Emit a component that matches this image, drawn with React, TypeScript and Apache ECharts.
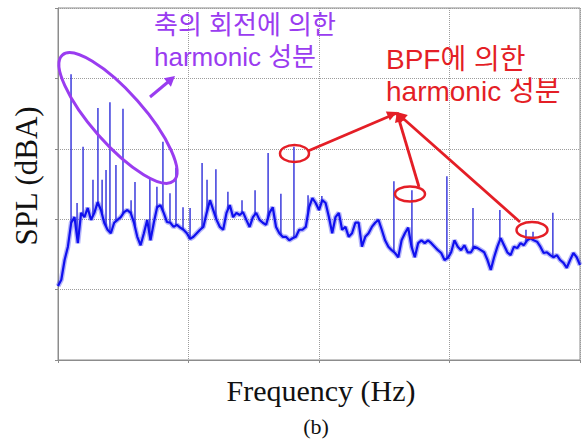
import React, { useEffect, useRef } from "react";
import * as echarts from "echarts";

// Frequency axis span (Hz) and SPL axis span (dBA); tick labels are not shown.
const FREQ_MAX = 2000;
const FREQ_TICKS = [0, 500, 1000, 1500, 2000];
const SPL_TICKS = [20, 30, 40, 50, 60, 70];

// Broadband floor of the spectrum, evenly sampled from 0 Hz to FREQ_MAX.
const baselineDb = [
  30.5,
  31.4, 34.2, 36.1, 39.5, 40.3, 36.6, 40.9, 40.3, 41.6, 39.9,
  40.9, 42.4, 41.3, 39.5, 38.5, 38.0, 39.5, 39.9, 40.3, 41.0,
  41.3, 40.9, 39.5, 37.5, 36.3, 38.0, 39.9, 37.0, 39.5, 41.7,
  42.0, 40.9, 39.6, 39.5, 38.9, 39.2, 38.8, 38.5, 38.0, 37.2,
  37.5, 38.0, 38.5, 38.9, 40.9, 42.7, 41.3, 39.9, 38.9, 38.5,
  40.9, 42.0, 40.3, 40.9, 40.6, 41.0, 39.9, 38.9, 40.3, 40.9,
  39.9, 39.5, 39.2, 40.9, 41.7, 38.9, 38.0, 37.5, 37.5, 37.0,
  37.3, 37.5, 38.5, 38.5, 38.9, 41.7, 43.0, 42.3, 41.3,
  42.7, 42.3, 40.3, 38.0, 40.3, 40.9, 38.5, 38.9, 37.5, 38.0,
  39.5, 39.5, 36.1, 37.5, 38.0, 38.9, 39.5, 39.9, 38.5, 37.0,
  36.1, 35.6, 35.2, 34.6, 37.0, 38.0, 38.8, 36.1, 34.6, 36.6,
  37.0, 36.6, 37.0, 36.6, 36.1, 35.6, 35.2, 34.2, 34.5, 35.3,
  37.0, 36.1, 35.6, 36.3, 35.3, 35.3, 36.1, 35.9, 35.6, 35.3,
  34.2, 32.8, 34.6, 36.1, 37.3, 36.3, 35.3, 34.9, 36.1, 35.9,
  36.6, 36.3, 37.0, 37.3, 37.0, 36.8, 36.1, 35.2, 35.3, 34.9,
  34.6, 34.9, 34.2, 33.8, 33.1, 34.2, 35.2, 34.6, 33.5,
];

// Tonal peaks: shaft-rotation harmonics at low frequency, BPF harmonics above.
const spikeHz = [
  50, 73, 96, 134, 153, 169, 184, 199, 222, 249,
  280, 295, 352, 379, 402, 429, 452, 479, 506, 552,
  571, 605, 651, 705, 755, 805, 854, 904, 958, 1011,
  1287, 1356, 1490, 1590, 1693, 1793, 1820, 1896,
];
const spikeDb = [
  60.6, 42.3, 50.3, 45.6, 55.8, 45.6, 47.0, 56.6, 47.7, 55.7,
  42.7, 45.3, 45.9, 44.6, 51.0, 43.7, 47.3, 41.7, 41.6, 48.0,
  45.6, 47.1, 43.9, 42.7, 44.1, 49.4, 43.6, 50.3, 43.4, 43.3,
  45.4, 44.1, 46.1, 41.6, 41.3, 38.5, 38.2, 40.9,
];

const step = FREQ_MAX / (baselineDb.length - 1);

function floorAt(f: number): number {
  const i = Math.min(baselineDb.length - 2, Math.max(0, Math.floor(f / step)));
  const t = (f - i * step) / step;
  return baselineDb[i] * (1 - t) + baselineDb[i + 1] * t;
}

function arrowHead(fx: number, fy: number, tx: number, ty: number, len: number, half: number) {
  const dx = tx - fx;
  const dy = ty - fy;
  const d = Math.hypot(dx, dy);
  const ux = dx / d;
  const uy = dy / d;
  const bx = tx - ux * len;
  const by = ty - uy * len;
  return [
    [tx, ty],
    [bx - uy * half, by + ux * half],
    [bx + uy * half, by - ux * half],
  ];
}

const PURPLE = "#9a3cf0";
const RED = "#e41e26";
const KFONT = '"Liberation Sans", "Noto Sans CJK KR", sans-serif';
const SERIF = '"Liberation Serif", "DejaVu Serif", serif';

// Two-line annotation block.
function annotation(text: string, x: number, y: number, color: string, size: number) {
  return {
    type: "text",
    x,
    y,
    z: 100,
    style: {
      text,
      x: 0,
      y: 0,
      fill: color,
      font: `${size}px ${KFONT}`,
      lineHeight: 32,
      textAlign: "left",
      align: "left",
      textVerticalAlign: "top",
      verticalAlign: "top",
    },
  };
}

function txt(text: string, x: number, y: number, size: number, color: string, family: string, extra: any = {}) {
  return {
    type: "text",
    x,
    y,
    ...extra,
    style: {
      text,
      x: 0,
      y: 0,
      fill: color,
      font: `${size}px ${family}`,
      textAlign: "center",
      align: "center",
      textVerticalAlign: "middle",
      verticalAlign: "middle",
    },
    z: 100,
  };
}

export default function App() {
  const ref = useRef<HTMLDivElement>(null);

  useEffect(() => {
    if (!ref.current) return;
    const chart = echarts.init(ref.current, null, { renderer: "svg" });

    const lineData = baselineDb.map((v, i) => [i * step, v]);
    const spikeData = spikeHz.map((f, i) => [f, spikeDb[i], floorAt(f)]);

    const redLines = [
      [308, 151],
      [419, 187],
      [520, 222],
    ];
    const junction = [397, 113];

    const graphics: any[] = [
      // shaft-rotation annotation
      annotation("축의 회전에 의한\nharmonic 성분", 154, 9, PURPLE, 26),
      {
        type: "ellipse",
        x: 118,
        y: 118,
        rotation: (-48.5 * Math.PI) / 180,
        shape: { cx: 0, cy: 0, rx: 84, ry: 26 },
        style: { fill: "none", stroke: PURPLE, lineWidth: 3 },
        z: 100,
      },
      {
        type: "line",
        shape: { x1: 150, y1: 97, x2: 168, y2: 82 },
        style: { stroke: PURPLE, lineWidth: 3 },
        z: 100,
      },
      {
        type: "polygon",
        shape: { points: arrowHead(150, 97, 175, 76, 10, 5.5) },
        style: { fill: PURPLE },
        z: 100,
      },
      // BPF annotation
      annotation("BPF에 의한\nharmonic 성분", 386, 43, RED, 28),
      {
        type: "ellipse",
        shape: { cx: 294.5, cy: 153.5, rx: 14.5, ry: 8.5 },
        style: { fill: "none", stroke: RED, lineWidth: 2.5 },
        z: 100,
      },
      {
        type: "ellipse",
        shape: { cx: 410, cy: 194, rx: 15, ry: 7.5 },
        style: { fill: "none", stroke: RED, lineWidth: 2.5 },
        z: 100,
      },
      {
        type: "ellipse",
        shape: { cx: 532, cy: 230, rx: 15.5, ry: 8 },
        style: { fill: "none", stroke: RED, lineWidth: 2.5 },
        z: 100,
      },
      ...redLines.map(([x, y]) => ({
        type: "line",
        shape: { x1: x, y1: y, x2: junction[0], y2: junction[1] },
        style: { stroke: RED, lineWidth: 2.8 },
        z: 100,
      })),
      ...redLines.map(([x, y]) => ({
        type: "polygon",
        shape: { points: arrowHead(x, y, junction[0], junction[1] - 1, 10, 5) },
        style: { fill: RED },
        z: 100,
      })),
      // axis titles and caption
      txt("SPL (dBA)", 26, 176, 31, "#111", SERIF, { rotation: Math.PI / 2 }),
      txt("Frequency (Hz)", 321, 390, 30, "#111", SERIF),
      txt("(b)", 316, 426, 22, "#111", SERIF),
    ];

    chart.setOption({
      animation: false,
      backgroundColor: "#ffffff",
      grid: {
        left: 58,
        top: 8,
        width: 522,
        height: 352,
        show: true,
        borderColor: "#8c8c8c",
        borderWidth: 1,
        backgroundColor: "transparent",
      },
      xAxis: {
        type: "value",
        min: FREQ_TICKS[0],
        max: FREQ_TICKS[FREQ_TICKS.length - 1],
        interval: FREQ_TICKS[1] - FREQ_TICKS[0],
        axisLabel: { show: false },
        axisLine: { show: true, lineStyle: { color: "#8c8c8c", width: 1 } },
        axisTick: { show: true, length: 3, lineStyle: { color: "#8c8c8c" } },
        splitLine: { show: true, lineStyle: { type: "dotted", color: "#9c9c9c", width: 1 } },
      },
      yAxis: {
        type: "value",
        min: SPL_TICKS[0],
        max: SPL_TICKS[SPL_TICKS.length - 1],
        interval: SPL_TICKS[1] - SPL_TICKS[0],
        axisLabel: { show: false },
        axisLine: { show: true, lineStyle: { color: "#8c8c8c", width: 1 } },
        axisTick: { show: true, length: 3, lineStyle: { color: "#8c8c8c" } },
        splitLine: { show: true, lineStyle: { type: "dotted", color: "#9c9c9c", width: 1 } },
      },
      series: [
        {
          type: "custom",
          name: "peaks",
          data: spikeData,
          encode: { x: 0, y: [1, 2] },
          clip: true,
          z: 2,
          renderItem: (_params: any, api: any) => {
            const top = api.coord([api.value(0), api.value(1)]);
            const bot = api.coord([api.value(0), api.value(2)]);
            return {
              type: "line",
              shape: { x1: top[0], y1: top[1], x2: bot[0], y2: bot[1] },
              style: { stroke: "#2626d8", lineWidth: 1.5, opacity: 0.9 },
            };
          },
        },
        {
          // soft band around the trace
          type: "line",
          name: "SPL band",
          data: lineData,
          showSymbol: false,
          symbol: "none",
          silent: true,
          z: 3,
          lineStyle: { color: "#2a2af0", width: 5, opacity: 0.35 },
        },
        {
          type: "line",
          name: "SPL",
          data: lineData,
          showSymbol: false,
          symbol: "none",
          z: 4,
          lineStyle: { color: "#1010ee", width: 2.2 },
        },
      ],
      graphic: graphics,
    });

    return () => chart.dispose();
  }, []);

  return (
    <div
      ref={ref}
      style={{ position: "absolute", left: 0, top: 0, width: 584, height: 442 }}
    />
  );
}
